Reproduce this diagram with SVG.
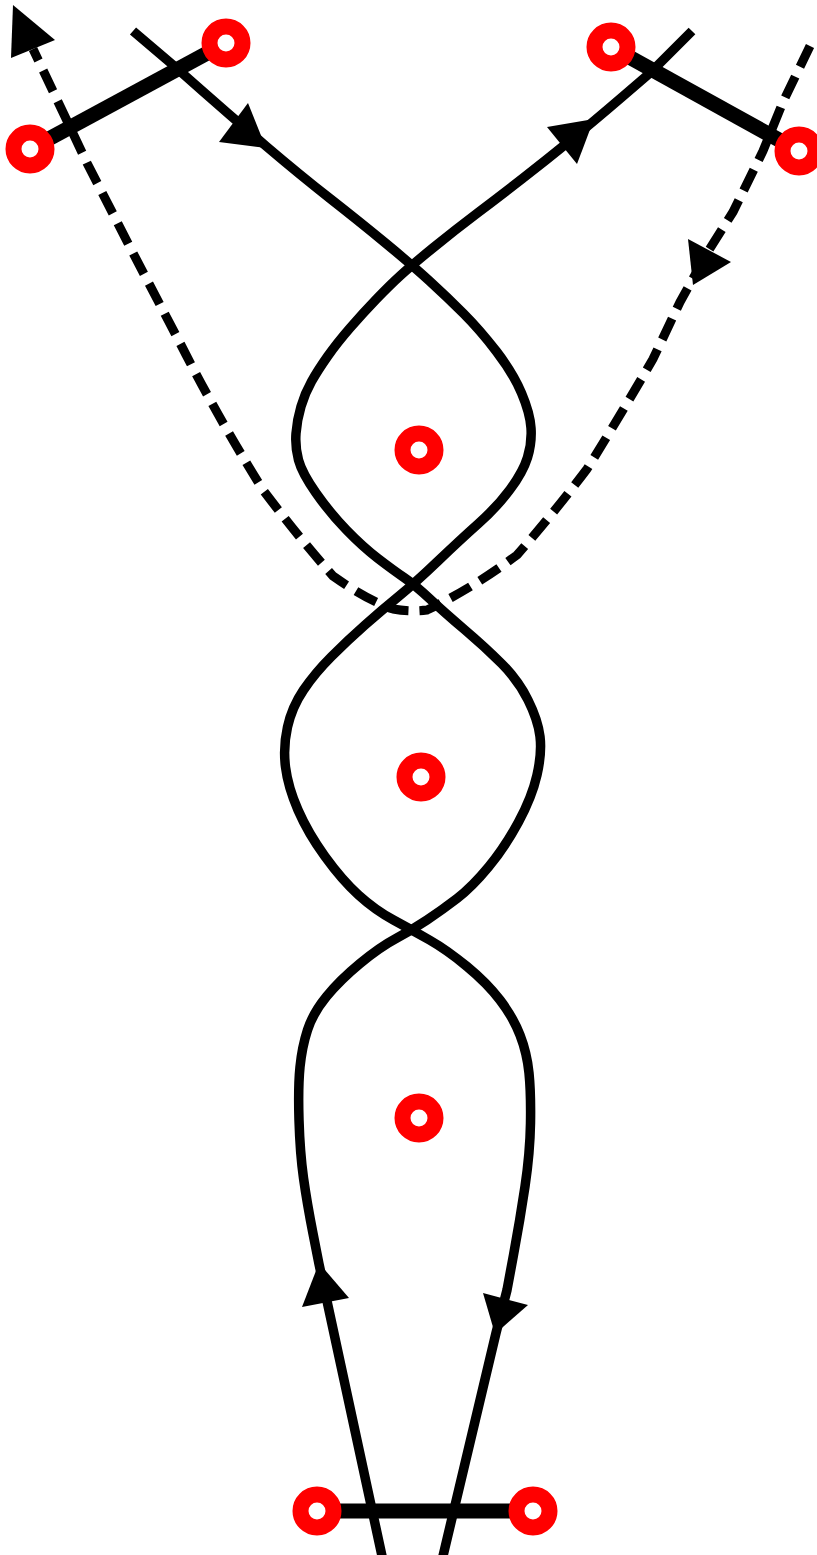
<svg xmlns="http://www.w3.org/2000/svg" width="817" height="1555" viewBox="0 0 817 1555">
  <style>
    .strand { fill: none; stroke: #000; stroke-width: 9.5; stroke-linejoin: round; stroke-linecap: butt; }
    .bar { fill: none; stroke: #000; stroke-width: 15; stroke-linecap: butt; }
    .dash { fill: none; stroke: #000; stroke-width: 9; stroke-dasharray: 23 11; stroke-linecap: butt; }
    .head { fill: #000; stroke: none; }
    .ring { fill: #fff; stroke: #ff0000; stroke-width: 16; }
  </style>
  <rect x="0" y="0" width="817" height="1555" fill="#fff"/>
  <g id="connectors">
    <line class="bar" x1="30" y1="149" x2="226" y2="43"/>
    <line class="bar" x1="611" y1="47" x2="799" y2="151"/>
    <line class="bar" x1="317" y1="1511" x2="533" y2="1511"/>
    <path class="dash" d="M 810,46 L 783,102 L 763,151 L 733,212 L 709,250 L 680,302 L 653,359 Q 620,416 587,469 Q 553,514 517,555 Q 473,588 427,610 Q 410,612 393,609 Q 367,600 333,576 Q 300,539 263,490 Q 217,416 180,343 L 133,253 L 87,163 L 33,49"/>
    <path id="strandA" class="strand" d="M 133,31 L 173,65 L 203,91.5 Q 233,118 266.5,146.5 Q 300,175 330,198.5 Q 360,222 386,243.5 Q 412,265 429.5,281 Q 447,297 463.5,313.5 Q 480,330 496.5,351.5 Q 513,373 521.5,393 Q 530,413 531,428 Q 532,443 527.5,457.5 Q 523,472 510,489.5 Q 497,507 478.5,523.5 Q 460,540 437.5,561.5 Q 415,583 398.5,596.5 Q 382,610 365,625 Q 348,640 331.5,656.5 Q 315,673 303.5,690 Q 292,707 287.5,727 Q 283,747 285.5,767 Q 288,787 298,810 Q 308,833 325,856.5 Q 342,880 358.5,895 Q 375,910 393.5,920 Q 412,930 429.5,940 Q 447,950 467,966.5 Q 487,983 500,1000 Q 513,1017 520,1035 Q 527,1053 529,1073 Q 531,1093 530.5,1123 Q 530,1153 525,1186.5 Q 520,1220 513.5,1255 L 507,1290 L 496,1333 L 443,1556"/>
    <path id="strandB" class="strand" d="M 382,1556 L 319,1264 L 313,1233.5 Q 307,1203 303.5,1178 Q 300,1153 299,1120 Q 298,1087 300,1067 Q 302,1047 307.5,1030 Q 313,1013 326.5,996.5 Q 340,980 360,963.5 Q 380,947 396,938.5 Q 412,930 427,920 Q 442,910 457,898.5 Q 472,887 488.5,867 Q 505,847 518.5,822 Q 532,797 537,775 Q 542,753 540,736.5 Q 538,720 528,700 Q 518,680 501.5,663.5 Q 485,647 465,630 Q 445,613 430,599 Q 415,585 404,577.5 Q 393,570 378,558.5 Q 363,547 346.5,530 Q 330,513 316,493 Q 302,473 298.5,460 Q 295,447 296,433.5 Q 297,420 301,406.5 Q 305,393 311.5,381.5 Q 318,370 327.5,356.5 Q 337,343 350,328 Q 363,313 376.5,299 Q 390,285 401,275 Q 412,265 433.5,247.5 Q 455,230 477.5,213 Q 500,196 522.5,178.5 Q 545,161 569,141.5 Q 593,122 621.5,97.5 L 650,73 L 692,31"/>
    <polygon class="head" points="13,5 55,40 11,58"/>
    <polygon class="head" points="688,239 731,262 693,285"/>
    <polygon class="head" points="248,103 219,142 266,148"/>
    <polygon class="head" points="547,127 577,164 594,119"/>
    <polygon class="head" points="319,1263 302,1307 349,1298"/>
    <polygon class="head" points="483,1293 528,1305 495,1334"/>
  </g>
  <g id="node1"><circle class="ring" cx="30" cy="149" r="16.5"/></g>
  <g id="node2"><circle class="ring" cx="226" cy="43" r="16.5"/></g>
  <g id="node3"><circle class="ring" cx="611" cy="47" r="16.5"/></g>
  <g id="node4"><circle class="ring" cx="799" cy="151" r="16.5"/></g>
  <g id="node5"><circle class="ring" cx="419" cy="450" r="16.5"/></g>
  <g id="node6"><circle class="ring" cx="421" cy="777" r="16.5"/></g>
  <g id="node7"><circle class="ring" cx="419" cy="1118" r="16.5"/></g>
  <g id="node8"><circle class="ring" cx="317" cy="1511" r="16.5"/></g>
  <g id="node9"><circle class="ring" cx="533" cy="1511" r="16.5"/></g>
</svg>
